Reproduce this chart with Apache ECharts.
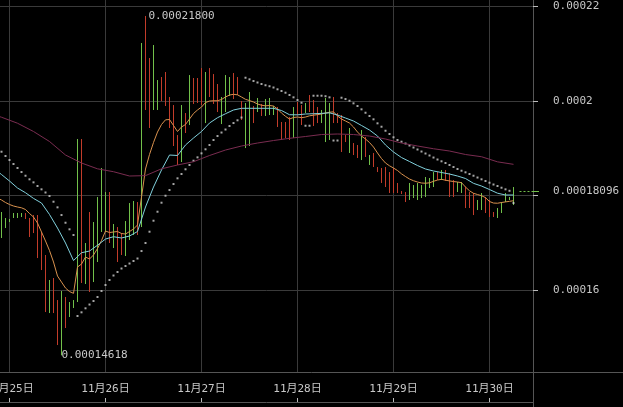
<!DOCTYPE html>
<html>
<head>
<meta charset="utf-8">
<script src="https://cdn.jsdelivr.net/npm/echarts@6/dist/echarts.min.js"></script>
<style>
html,body{margin:0;padding:0;background:#000;}
#chart{width:623px;height:407px;}
</style>
</head>
<body>
<div id="chart"></div>
<script>
// Prices are stored in units of 0.00000001
const UNIT = 1e-8;
const HOUR = 3600 * 1000;
const DAY0 = new Date(2024, 10, 25, 0, 0, 0).getTime(); // 11月25日 00:00

// hourly candles, first one at 11月24日 22:00
const candleFirstHour = -2;
const opens = [17228,17355,17460,17545,17566,17566,17609,17418,17482,17355,17037,16444,15683,16064,15556,14963,15683,15513,15661,15788,17164,16318,16847,16466,16952,17482,17376,17905,17016,17228,17101,16889,17228,17355,17693,17397,21079,20233,20021,19915,20381,20444,19915,19704,19132,18963,19640,19640,20360,20360,20508,19810,20550,20402,20212,19661,19958,20212,20444,20402,19894,19238,19344,19810,19831,19873,19767,19788,19746,19767,19471,19471,19534,19386,19915,19810,19810,20042,19894,19788,19598,19365,19365,19958,19704,19513,19238,19026,19048,19005,18921,19132,18709,18815,18582,18497,18497,18392,18455,18222,18074,18032,17989,18011,17989,18011,18074,18201,18265,18455,18370,18476,18349,18243,18116,18116,18074,17989,17926,17757,17778,17884,17820,17630,17566,17693,17905,17926,17926];
const closes = [17524,17482,17482,17609,17609,17609,17545,17228,17291,16910,16635,15831,16042,15704,15069,15640,15365,15661,15746,17164,16423,16847,16423,17058,17587,18222,17905,17228,17270,16741,16847,17270,17651,17693,17355,19598,20021,19704,20868,20339,20127,20064,19598,19259,18794,19598,19429,20339,20085,20085,20106,20339,20233,20106,19915,19937,20360,20402,20191,20233,19704,19725,19915,19619,20000,19746,19958,19979,19852,19556,19259,19302,19302,19704,19767,19598,19894,19852,19598,19619,19746,19831,19767,19661,19577,19111,19175,19302,18921,18857,19217,18921,18794,18688,18519,18349,18286,18159,18180,18116,18053,17905,18180,18159,18180,18159,18286,18328,18413,18370,18497,18370,18095,18053,18222,18222,17841,17820,17693,17841,17968,17714,17630,17566,17693,17799,18011,17947,18096];
const lows = [17101,17312,17439,17524,17524,17545,17503,17122,17206,16677,16423,15534,15513,15513,14836,14618,15196,15429,15619,15746,16148,16127,15958,16169,16593,17228,17228,16995,16889,16593,16741,16720,17058,17164,17164,17333,19810,19429,19810,19810,20000,19894,19429,19048,18646,18709,19323,19492,19937,19958,19915,19534,20085,19937,19767,19513,19767,20106,20042,20127,19598,19005,19048,19534,19767,19683,19683,19704,19704,19450,19175,19217,19175,19217,19704,19492,19746,19767,19471,19534,19534,19132,19175,19534,19534,18921,19132,18900,18857,18794,18751,18815,18646,18603,18497,18265,18180,18053,18053,18053,18032,17862,17905,17947,17905,17947,17968,18159,18180,18328,18328,18307,17968,17968,18074,18053,17735,17735,17587,17693,17693,17630,17545,17545,17524,17630,17862,17905,17799];
const highs = [17651,17524,17503,17630,17630,17630,17630,17524,17587,17587,17228,16741,16212,16254,15788,15979,15852,15746,15788,19196,19196,16995,17651,17439,17968,18582,18074,18074,17397,17333,17206,17460,17841,17884,17862,21228,21800,20910,21185,20444,20508,20614,20085,19915,19280,19915,19746,20550,20487,20487,20698,20614,20698,20571,20360,20085,20550,20508,20593,20508,20000,19958,20191,19894,20064,19937,20042,20064,19894,19873,19556,19556,19661,19873,19979,19915,19958,20127,20021,19873,19810,20064,19958,20085,19746,19704,19280,19429,19111,19069,19386,19238,18857,18900,18603,18582,18603,18497,18582,18265,18095,18074,18265,18222,18265,18222,18392,18370,18497,18497,18540,18540,18476,18328,18286,18286,18180,18074,18053,17905,18053,17968,17905,17651,17735,17862,18053,17968,18180];

// short moving average (orange), hourly from 11月24日 21:00
const maShortFirstHour = -3;
const maShort = [17947,17905,17852,17810,17778,17757,17740,17704,17619,17545,17418,17228,17037,16836,16593,16296,16169,16042,15968,15930,16487,16550,16698,16656,16741,16878,17048,17249,17217,17228,17238,17196,17185,17238,17291,17376,17968,18561,18868,19122,19344,19503,19602,19609,19482,19355,19450,19503,19619,19735,19810,19873,19968,20000,20006,20006,20032,20085,20127,20142,20131,20085,20036,20009,19979,19937,19911,19898,19905,19894,19831,19746,19676,19619,19651,19661,19647,19661,19687,19700,19712,19725,19746,19763,19771,19683,19619,19577,19534,19450,19344,19259,19196,19122,19026,18900,18783,18688,18629,18582,18529,18459,18402,18349,18313,18286,18265,18260,18269,18301,18328,18343,18324,18309,18296,18286,18271,18180,18100,18047,18021,17996,17956,17873,17841,17837,17852,17865,17877,17890];

// medium moving average (light blue), every 2 hours from 11月24日 20:00
const maMidFirstHour = -4;
const maMidStep = 2;
const maMid = [18582,18444,18307,18159,18059,17939,17841,17598,17312,16995,16624,16789,16825,16948,17079,17128,17101,17143,17238,17757,18180,18540,18857,18847,19069,19217,19355,19534,19647,19731,19810,19846,19846,19846,19846,19846,19799,19710,19708,19725,19731,19738,19750,19704,19640,19577,19482,19386,19259,19069,18921,18804,18720,18635,18561,18519,18487,18455,18413,18360,18258,18201,18127,18049,18011,18011];

// long moving average (dark red), every 4 hours from 11月24日 18:00
const maLongFirstHour = -6;
const maLongStep = 4;
const maLong = [19767,19657,19530,19355,19143,18857,18688,18565,18504,18413,18421,18565,18646,18715,18847,18963,19048,19111,19164,19211,19249,19291,19302,19291,19259,19196,19111,19048,18990,18942,18868,18821,18713,18660];

// parabolic SAR, hourly from 11月24日 22:00
const sarFirstHour = -2;
const sar = [18927,18836,18751,18667,18582,18497,18419,18343,18279,18201,18131,18064,17989,17869,17750,17587,17424,17285,17164,
15450,15528,15613,15693,15767,15852,15979,16106,16212,16307,16381,16455,16508,16561,16614,16667,16825,16995,17234,17467,17657,17848,17996,18116,18243,18364,18455,18555,18646,18737,18808,18893,18978,19069,19175,19259,19333,19397,19471,19534,19592,19651,
20493,20459,20423,20392,20360,20334,20313,20286,20248,20212,20176,20127,20078,20021,19964,
19477,19477,
20112,20112,20112,20102,20078,
19164,19164,
20070,20042,20006,19951,19894,19824,19752,19683,19613,19528,19456,19371,19302,19232,19175,19139,19101,19058,19016,18974,18931,18889,18847,18804,18762,18724,18688,18646,18603,18561,18525,18491,18455,18419,18381,18343,18307,18271,18233,18201,18165,18131,18100,
17841];

const lastPrice = 0.00018096;

// visible window (hours relative to 11月25日 00:00)
const viewStartHour = -2.375;
const viewEndHour = 130.875;

const UP = '#72c04a';
const DOWN = '#c23c2a';
const TEXT = '#c8c8c8';
const FONT = "'DejaVu Sans Mono', 'Noto Sans CJK SC', monospace";

const t = h => DAY0 + h * HOUR;
const candleData = opens.map((o, i) => [t(candleFirstHour + i), o * UNIT, closes[i] * UNIT, lows[i] * UNIT, highs[i] * UNIT]);
const maShortData = maShort.map((v, i) => [t(maShortFirstHour + i), v * UNIT]);
const maMidData = maMid.map((v, i) => [t(maMidFirstHour + i * maMidStep), v * UNIT]);
const maLongData = maLong.map((v, i) => [t(maLongFirstHour + i * maLongStep), v * UNIT]);
const sarData = sar.map((v, i) => [t(sarFirstHour + i), v * UNIT]);
const lastTime = t(candleFirstHour + opens.length - 1);
const xMin = t(viewStartHour), xMax = t(viewEndHour);

const chart = echarts.init(document.getElementById('chart'), null, {renderer: 'canvas'});
chart.setOption({
  backgroundColor: '#000',
  animation: false,
  grid: {left: 0, right: 90, top: 0, bottom: 35, containLabel: false, outerBoundsMode: 'none'},
  xAxis: {
    type: 'time',
    min: xMin, max: xMax,
    minInterval: 24 * HOUR, maxInterval: 24 * HOUR,
    offset: 30,
    axisLine: {show: true, lineStyle: {color: '#555'}},
    axisTick: {show: true, inside: true, length: 4, lineStyle: {color: '#bbb'}},
    axisLabel: {
      inside: true, margin: 7, color: TEXT, fontSize: 11, fontFamily: FONT,
      showMinLabel: false, showMaxLabel: false, hideOverlap: false,
      formatter: v => { const d = new Date(v); return (d.getMonth() + 1) + '月' + d.getDate() + '日'; }
    },
    splitLine: {show: true, showMinLine: false, showMaxLine: false, lineStyle: {color: '#3a3a3a'}}
  },
  yAxis: {
    type: 'value', position: 'right',
    min: 0.00014265, max: 0.00022138,
    axisLine: {show: true, lineStyle: {color: '#555'}},
    axisTick: {show: true, length: 5, lineStyle: {color: '#bbb'}},
    axisLabel: {
      margin: 20, color: TEXT, fontSize: 11, fontFamily: FONT,
      showMinLabel: false, showMaxLabel: false,
      formatter: v => Math.abs(v - 0.00018) < 1e-10 ? '' : String(v)
    },
    splitLine: {show: true, showMinLine: false, showMaxLine: false, lineStyle: {color: '#3a3a3a'}}
  },
  graphic: [
    {type: 'line', silent: true, shape: {x1: 0, y1: 372.5, x2: 623, y2: 372.5}, style: {stroke: '#555', lineWidth: 1}},
    {type: 'line', silent: true, shape: {x1: 533.5, y1: 372, x2: 533.5, y2: 407}, style: {stroke: '#555', lineWidth: 1}}
  ],
  series: [
    {
      type: 'candlestick',
      dimensions: ['time', 'open', 'close', 'lowest', 'highest'],
      encode: {x: 'time', y: ['open', 'close', 'lowest', 'highest']},
      data: candleData,
      barWidth: 0.1,
      clip: true,
      itemStyle: {color: UP, color0: DOWN, borderColor: UP, borderColor0: DOWN, borderWidth: 1},
      markPoint: {
        symbol: 'circle', symbolSize: 0, silent: true, animation: false,
        itemStyle: {color: 'rgba(0,0,0,0)'},
        label: {show: true, color: TEXT, fontSize: 11, fontFamily: FONT,
          formatter: p => Number(p.value).toFixed(8)},
        data: [
          {type: 'max', valueDim: 'highest', label: {position: 'right', distance: 3}},
          {type: 'min', valueDim: 'lowest', label: {position: 'right', distance: 0}}
        ]
      },
      markLine: {
        symbol: ['none', 'none'], silent: true, animation: false,
        data: [
          [{coord: [lastTime + 1.5 * HOUR, lastPrice], lineStyle: {color: UP, type: [2, 2], width: 1}, label: {show: false}},
           {coord: [xMax, lastPrice]}],
          [{coord: [xMax, lastPrice], lineStyle: {color: UP, type: 'solid', width: 1},
            label: {show: true, position: 'end', distance: 14, color: TEXT, fontSize: 11, fontFamily: FONT,
              formatter: () => lastPrice.toFixed(8)}},
           {coord: [xMax, lastPrice], x: 539}]
        ]
      }
    },
    {type: 'line', data: maShortData, showSymbol: false, silent: true, lineStyle: {color: '#d8914e', width: 1}},
    {type: 'line', data: maMidData, showSymbol: false, silent: true, lineStyle: {color: '#80d0dc', width: 1}},
    {type: 'line', data: maLongData, showSymbol: false, silent: true, lineStyle: {color: '#7a2c50', width: 1}},
    {type: 'scatter', data: sarData, symbol: 'rect', symbolSize: 2, silent: true, itemStyle: {color: '#cfcfcf'}}
  ]
});
</script>
</body>
</html>
